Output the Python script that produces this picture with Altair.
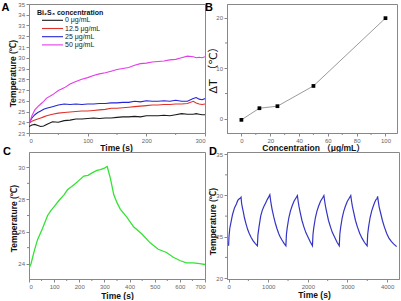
import altair as alt
import pandas as pd

# ---------------- Panel A data ----------------
a_time = [0, 5, 10, 15, 20, 25, 30, 40, 50, 60, 70, 80, 90, 100, 110, 120, 130, 140, 150,
          160, 170, 180, 190, 200, 210, 220, 230, 240, 250, 260, 270, 280, 285, 290, 295, 300]
a_0 = [23.6, 23.75, 23.8, 23.7, 23.6, 23.65, 23.8, 24.05, 24.0, 24.15, 24.2, 24.3, 24.3, 24.35,
       24.4, 24.35, 24.4, 24.4, 24.45, 24.5, 24.5, 24.55, 24.5, 24.6, 24.6, 24.6, 24.65, 24.6,
       24.7, 24.8, 24.75, 24.75, 24.8, 24.75, 24.7, 24.7]
a_12 = [23.9, 24.1, 24.2, 24.3, 24.4, 24.5, 24.6, 24.75, 24.85, 24.9, 24.95, 25.0, 25.05, 25.05,
        25.1, 25.15, 25.2, 25.3, 25.3, 25.35, 25.4, 25.45, 25.5, 25.55, 25.6, 25.6, 25.65, 25.65,
        25.7, 25.7, 25.75, 25.95, 25.8, 25.7, 25.65, 25.7]
a_25 = [23.9, 24.4, 24.7, 24.9, 25.05, 25.2, 25.3, 25.45, 25.6, 25.7, 25.65, 25.7, 25.65, 25.7,
        25.7, 25.75, 25.75, 25.8, 25.8, 25.85, 25.85, 25.95, 25.9, 26.0, 25.95, 25.95, 26.0, 25.95,
        26.05, 25.95, 25.95, 26.2, 26.3, 26.15, 26.1, 26.2]
a_50 = [23.8, 24.6, 25.15, 25.45, 25.7, 25.95, 26.25, 26.55, 26.95, 27.2, 27.55, 27.8, 28.0, 28.15,
        28.35, 28.5, 28.6, 28.75, 28.9, 29.0, 29.1, 29.3, 29.45, 29.5, 29.6, 29.65, 29.7, 29.8,
        29.85, 30.0, 30.15, 30.1, 30.0, 30.05, 30.0, 30.1]
a_names = ["0 μg/mL", "12.5 μg/mL", "25 μg/mL", "50 μg/mL"]
a_colors = ["#1a1a1a", "#e0302a", "#2424d8", "#e43ce8"]
a_xticks = [0, 100, 200, 300]
a_xminor = [50, 150, 250]
a_yticks = list(range(23, 36))

# ---------------- Panel B data ----------------
b_conc = [0, 12.5, 25, 50, 100]
b_dt = [-0.2, 2.1, 2.5, 6.5, 19.9]
b_xticks = [0, 20, 40, 60, 80, 100]
b_xminor = [10, 30, 50, 70, 90]
b_yticks = [0, 10, 20]
b_yminor = [5, 15]

# ---------------- Panel C data ----------------
c_time = [0, 8, 21, 34, 54, 74, 87, 100, 120, 140, 153, 170, 186, 200, 218, 235, 251, 270, 284,
          300, 311, 324, 337, 350, 363, 389, 416, 449, 482, 514, 547, 574, 600, 626, 653, 679, 700]
c_temp = [23.7, 24.0, 24.8, 25.5, 26.2, 27.0, 27.3, 27.55, 27.95, 28.3, 28.6, 28.8, 29.0, 29.2,
          29.45, 29.5, 29.65, 29.8, 29.85, 29.95, 30.05, 29.3, 28.3, 27.8, 27.4, 26.9, 26.3, 25.85,
          25.3, 24.9, 24.7, 24.4, 24.2, 24.05, 24.05, 24.0, 23.95]
c_xticks = [0, 100, 200, 300, 400, 500, 600, 700]
c_xminor = [50, 150, 250, 350, 450, 550, 650]
c_yticks = [24, 26, 28, 30]
c_yminor = [25, 27, 29]

# ---------------- Panel D data ----------------
d_time = [0, 10, 30, 66, 100, 149, 200, 231, 270, 300, 314, 330, 350, 372, 400, 438, 480, 521, 570, 620, 670, 727,
          740, 768, 810, 850, 893, 935, 975, 1010, 1041, 1060, 1080, 1099, 1140, 1182, 1220, 1264, 1300, 1347, 1400, 1446,
          1460, 1480, 1520, 1560, 1600, 1650, 1700, 1736, 1755, 1775, 1800, 1850, 1900, 1950, 2000, 2060, 2116,
          2130, 2150, 2190, 2230, 2270, 2320, 2370, 2405, 2425, 2445, 2470, 2520, 2570, 2620, 2680, 2740, 2793,
          2807, 2827, 2867, 2907, 2947, 2997, 3047, 3083, 3103, 3123, 3150, 3200, 3250, 3310, 3370, 3430, 3496,
          3510, 3530, 3570, 3610, 3650, 3690, 3720, 3745, 3760, 3780, 3800, 3830, 3880, 3930, 3990, 4050, 4110, 4170, 4240]
d_temp = [23.9, 25.0, 26.0, 26.9, 27.7, 28.5, 29.0, 29.4, 29.6, 29.7, 29.8, 29.0, 28.5, 28.0, 27.3, 26.6, 25.9, 25.4, 24.9, 24.5, 24.2, 23.9,
          25.2, 26.2, 27.5, 28.2, 28.7, 29.1, 29.5, 29.8, 30.1, 29.4, 28.8, 28.3, 27.4, 26.6, 26.0, 25.4, 25.0, 24.6, 24.2, 23.9,
          25.3, 26.1, 27.3, 28.1, 28.7, 29.3, 29.7, 30.0, 29.3, 28.7, 28.1, 27.0, 26.2, 25.5, 25.0, 24.4, 23.9,
          25.3, 26.1, 27.3, 28.1, 28.7, 29.3, 29.7, 30.0, 29.3, 28.7, 28.1, 27.0, 26.2, 25.5, 24.9, 24.3, 23.9,
          25.3, 26.1, 27.3, 28.1, 28.7, 29.3, 29.7, 30.0, 29.3, 28.7, 28.1, 27.0, 26.2, 25.4, 24.8, 24.3, 23.9,
          25.3, 26.1, 27.3, 28.1, 28.7, 29.2, 29.5, 29.6, 29.9, 29.2, 28.6, 28.0, 27.0, 26.2, 25.4, 24.8, 24.4, 24.1, 23.8]
d_xticks = [0, 1000, 2000, 3000, 4000]
d_xminor = [500, 1500, 2500, 3500]
d_yticks = [20, 25, 30, 35]
d_yminor = [22.5, 27.5, 32.5]

FONT = "Liberation Sans, Arial, Noto Sans CJK SC"
LBL = dict(labelFontSize=6, labelColor="#666", labelFont=FONT, tickColor="#888",
           domainColor="#888", tickSize=3, labelPadding=1.5, grid=False, format="d",
           titleFont=FONT, titleFontSize=8.5, titleFontWeight="bold", titleColor="#111",
           titleAlign="center", titleBaseline="middle")


def letter(ch, x, y):
    return alt.Chart(pd.DataFrame({"t": [ch]})).mark_text(
        font=FONT, fontSize=11, fontWeight="bold", color="#000", align="center", baseline="middle"
    ).encode(x=alt.value(x), y=alt.value(y), text="t:N")


def minor_x(vals, field, scale, axis, h):
    return alt.Chart(pd.DataFrame({field: vals})).mark_rule(color="#888", strokeWidth=1).encode(
        x=alt.X(f"{field}:Q", scale=scale, axis=axis), y=alt.value(h), y2=alt.value(h + 2))


def minor_y(vals, field, scale, axis):
    return alt.Chart(pd.DataFrame({field: vals})).mark_rule(color="#888", strokeWidth=1).encode(
        y=alt.Y(f"{field}:Q", scale=scale, axis=axis), x=alt.value(0), x2=alt.value(-2))


# ---------------- Panel A ----------------
WA, HA = 176, 129
rows = []
for name, vals in zip(a_names, [a_0, a_12, a_25, a_50]):
    for t, v in zip(a_time, vals):
        rows.append({"time": t, "temp": v, "series": name})
dfA = pd.DataFrame(rows)
sxA = alt.Scale(domain=[0, 300], nice=False, zero=False)
syA = alt.Scale(domain=[23, 35], nice=False, zero=False)
axA = alt.Axis(title="Time (s)", values=a_xticks, titleX=87, titleY=14.5, **LBL)
ayA = alt.Axis(title="Temperature (℃)", values=a_yticks, titleX=-17, titleY=69, titleAngle=270, **LBL)

linesA = alt.Chart(dfA).mark_line(strokeWidth=1.1, clip=True).encode(
    x=alt.X("time:Q", scale=sxA, axis=axA),
    y=alt.Y("temp:Q", scale=syA, axis=ayA),
    color=alt.Color("series:N", scale=alt.Scale(domain=a_names, range=a_colors), legend=None),
    detail="series:N",
)

legend_layers = [
    alt.Chart(pd.DataFrame({"t": ["Bi₂S₃ concentration"]})).mark_text(
        font=FONT, fontSize=7, fontWeight="bold", color="#111", align="left", baseline="middle"
    ).encode(x=alt.value(8), y=alt.value(9), text="t:N")
]
for i, (name, col) in enumerate(zip(a_names, a_colors)):
    yy = 16.3 + i * 8.2
    one = pd.DataFrame({"t": [name]})
    legend_layers.append(alt.Chart(one).mark_rule(color=col, strokeWidth=1.1).encode(
        x=alt.value(13), x2=alt.value(34), y=alt.value(yy)))
    legend_layers.append(alt.Chart(one).mark_text(
        font=FONT, fontSize=7, color="#222", align="left", baseline="middle"
    ).encode(x=alt.value(36), y=alt.value(yy), text="t:N"))

panelA = alt.layer(linesA, minor_x(a_xminor, "time", sxA, axA, HA), *legend_layers,
                   letter("A", -23.5, 4)).properties(width=WA, height=HA)

# ---------------- Panel B ----------------
WB, HB = 170, 129
dfB = pd.DataFrame({"conc": b_conc, "dt": b_dt})
sxB = alt.Scale(domain=[-10, 108], nice=False, zero=False)
syB = alt.Scale(domain=[-2.8, 22.7], nice=False, zero=False)
axB = alt.Axis(title="Concentration （μg/mL）", values=b_xticks, titleX=86, titleY=14.5, **LBL)
ayB = alt.Axis(title="ΔT （℃）", values=b_yticks, titleX=-14, titleY=63, titleAngle=270,
               **{**LBL, "titleFontWeight": "normal", "titleFontSize": 11,
                  "titleFont": "DejaVu Sans, Noto Sans CJK SC"})
xB = alt.X("conc:Q", scale=sxB, axis=axB)
yB = alt.Y("dt:Q", scale=syB, axis=ayB)
lineB = alt.Chart(dfB).mark_line(color="#808080", strokeWidth=0.8).encode(x=xB, y=yB)
ptsB = alt.Chart(dfB).mark_point(shape="square", filled=True, color="#000", size=14, opacity=1).encode(x=xB, y=yB)
panelB = alt.layer(lineB, ptsB, minor_x(b_xminor, "conc", sxB, axB, HB), minor_y(b_yminor, "dt", syB, ayB),
                   letter("B", -18, 4)).properties(width=WB, height=HB)

# ---------------- Panel C ----------------
WC, HC = 176, 127
dfC = pd.DataFrame({"time": c_time, "temp": c_temp})
sxC = alt.Scale(domain=[0, 700], nice=False, zero=False)
syC = alt.Scale(domain=[23.05, 30.95], nice=False, zero=False)
axC = alt.Axis(title="Time (s)", values=c_xticks, titleX=88, titleY=16, **LBL)
ayC = alt.Axis(title="Temperature (℃)", values=c_yticks, titleX=-16, titleY=66, titleAngle=270, **LBL)
lineC = alt.Chart(dfC).mark_line(color="#33e333", strokeWidth=1.3, clip=True).encode(
    x=alt.X("time:Q", scale=sxC, axis=axC),
    y=alt.Y("temp:Q", scale=syC, axis=ayC),
)
panelC = alt.layer(lineC, minor_x(c_xminor, "time", sxC, axC, HC), minor_y(c_yminor, "temp", syC, ayC),
                   letter("C", -22, 0)).properties(width=WC, height=HC)

# ---------------- Panel D ----------------
WD, HD = 172, 127
dfD = pd.DataFrame({"time": d_time, "temp": d_temp})
sxD = alt.Scale(domain=[-40, 4300], nice=False, zero=False)
syD = alt.Scale(domain=[19.88, 35.27], nice=False, zero=False)
axD = alt.Axis(title="Time (s)", values=d_xticks, titleX=87, titleY=15, **LBL)
ayD = alt.Axis(title="Temperature (℃)", values=d_yticks, titleX=-15, titleY=69, titleAngle=270, **LBL)
lineD = alt.Chart(dfD).mark_line(color="#3434c4", strokeWidth=1.2, clip=True).encode(
    x=alt.X("time:Q", scale=sxD, axis=axD),
    y=alt.Y("temp:Q", scale=syD, axis=ayD),
)
panelD = alt.layer(lineD, minor_x(d_xminor, "time", sxD, axD, HD), minor_y(d_yminor, "temp", syD, ayD),
                   letter("D", -14, 0)).properties(width=WD, height=HD)

chart = alt.concat(panelA, panelB, panelC, panelD, columns=2,
                   spacing={"row": 19, "column": 22}, bounds="flush").properties(
    padding={"left": 1, "top": 0, "right": 0, "bottom": 0},
    background="white",
).configure_view(stroke="#888", strokeWidth=1)

chart.save("out.html", embed_options={"renderer": "svg", "actions": False})
